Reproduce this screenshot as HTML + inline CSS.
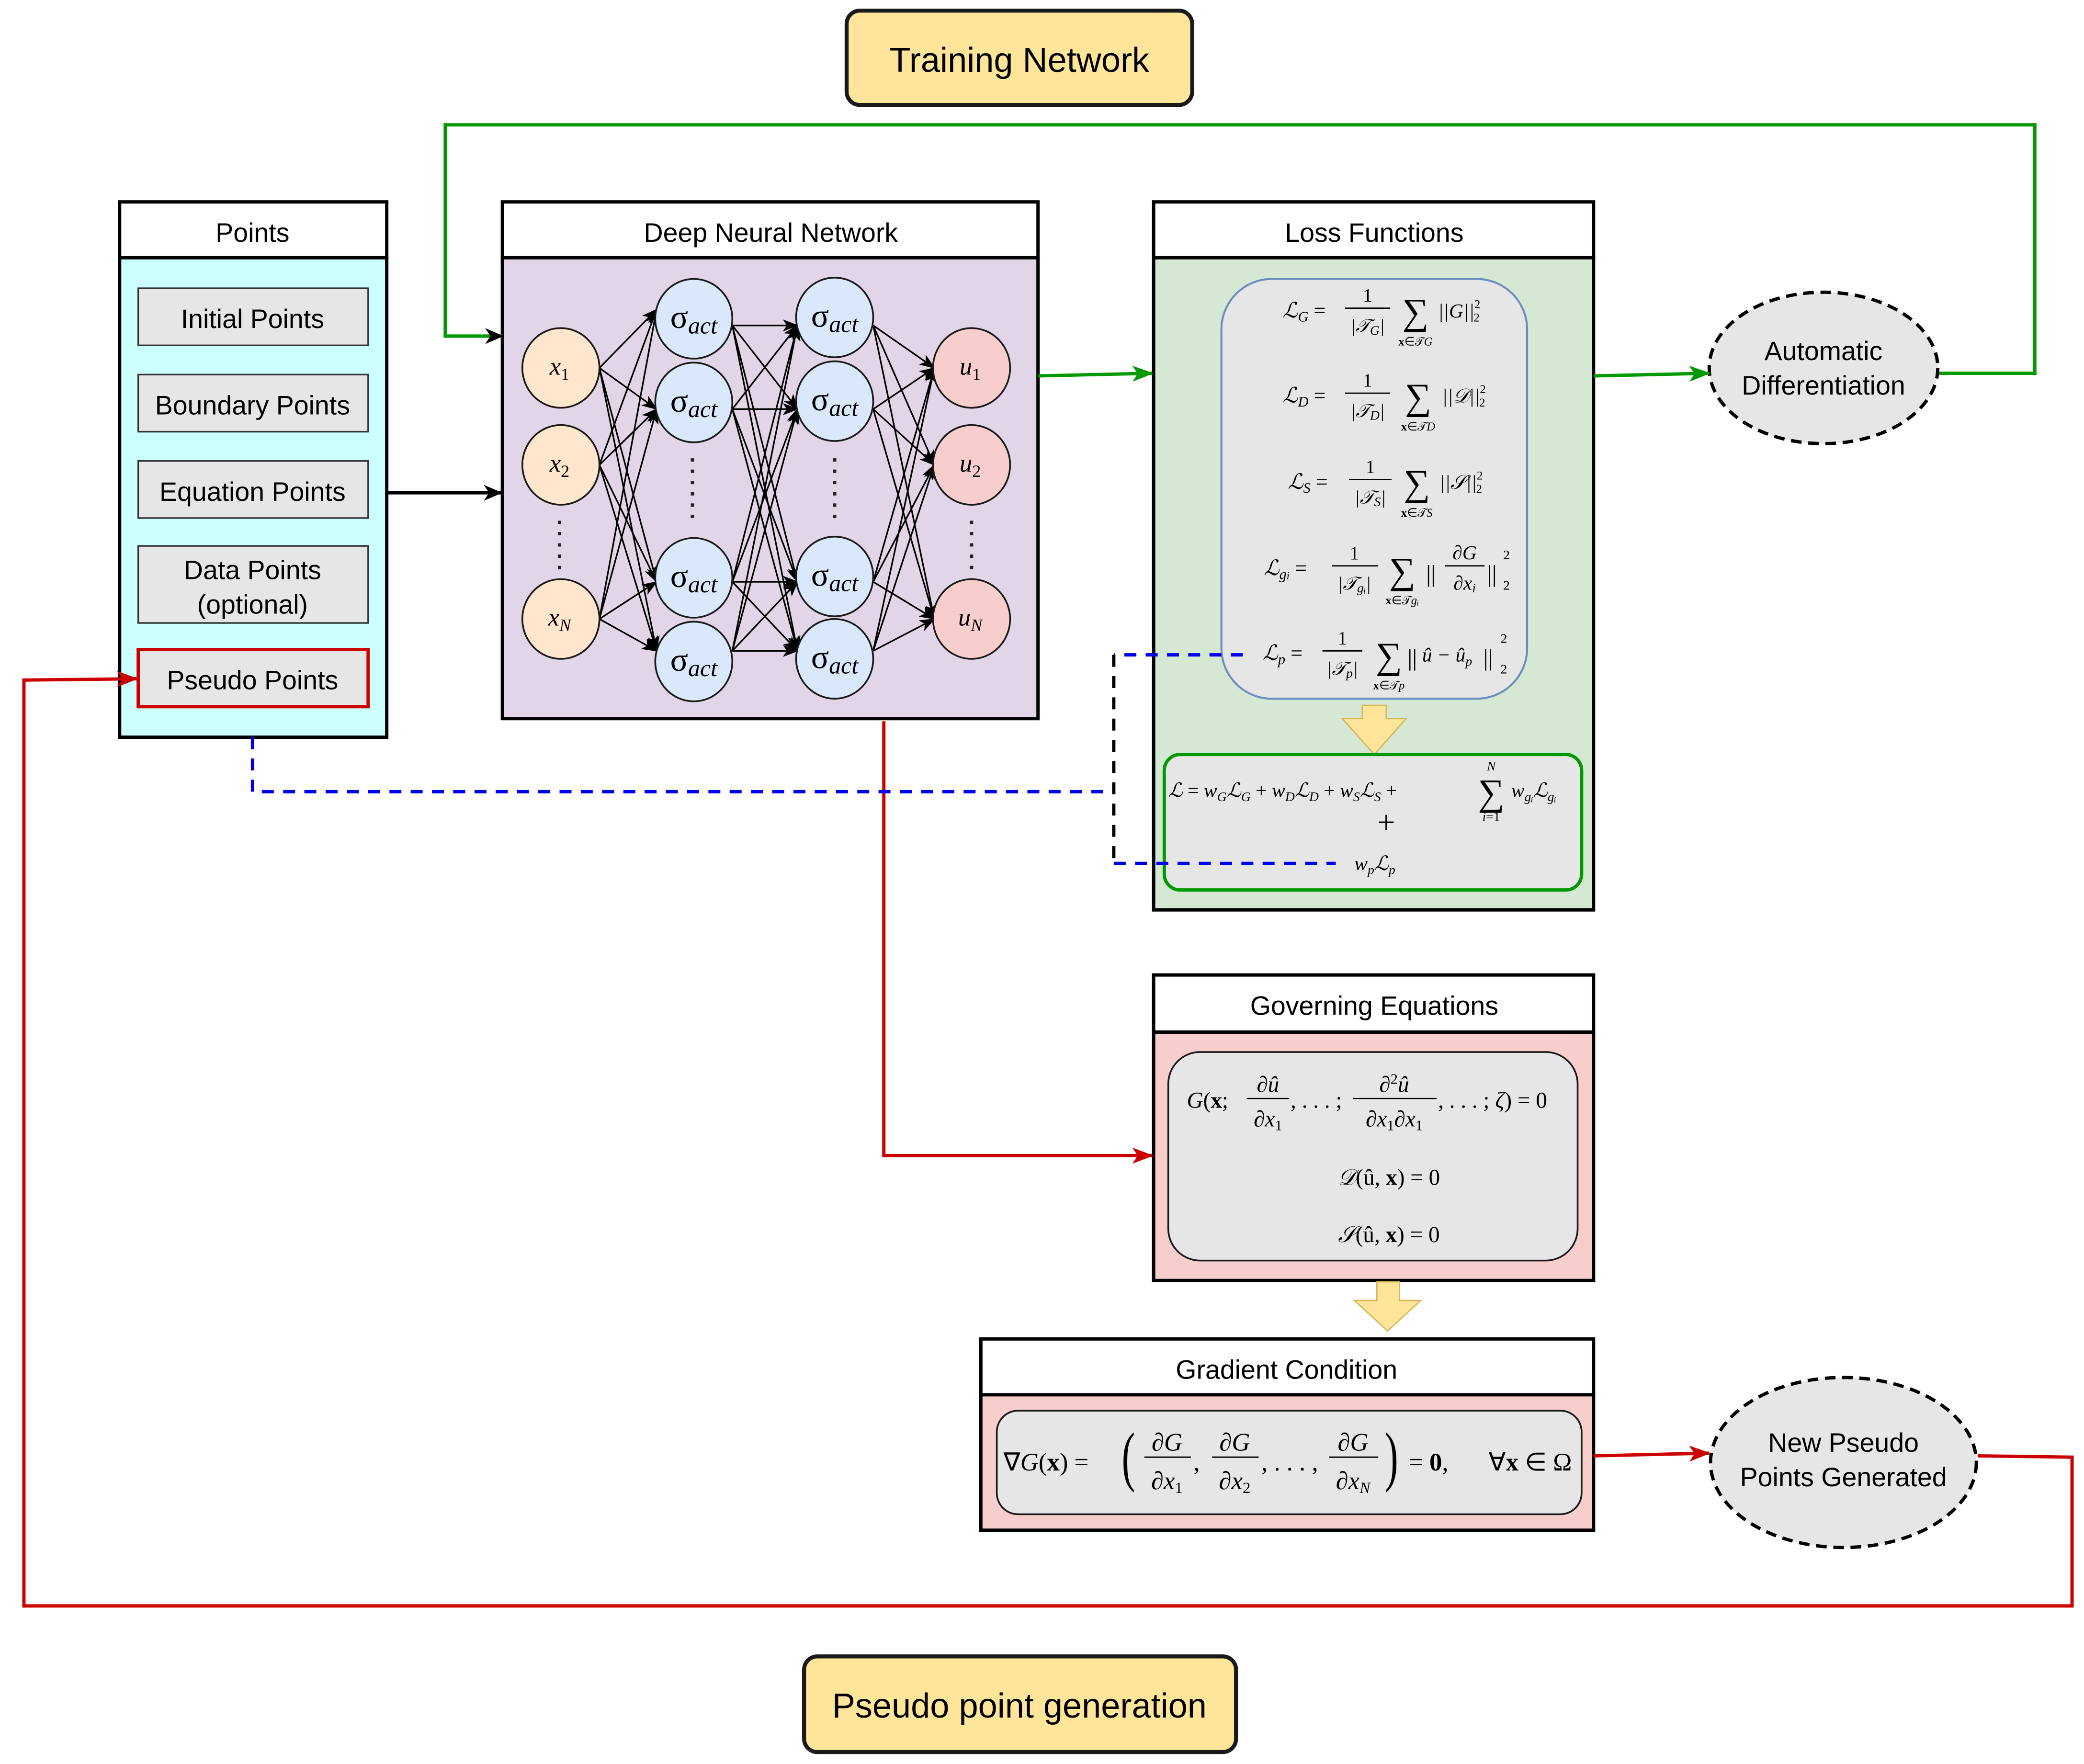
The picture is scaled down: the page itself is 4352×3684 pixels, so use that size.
<!DOCTYPE html>
<html><head><meta charset="utf-8"><style>
html,body{margin:0;padding:0;background:#fff;}
svg{display:block;}
.t{font-family:"Liberation Sans",sans-serif;}
.m{font-family:"Liberation Serif",serif;font-style:italic;}
.r{font-family:"Liberation Serif",serif;}
</style></head><body>
<svg width="4352" height="3684" viewBox="0 0 1568 1328" preserveAspectRatio="none" xmlns="http://www.w3.org/2000/svg">
<defs>
<marker id="ab" markerWidth="12" markerHeight="9" refX="11" refY="4.5" orient="auto" markerUnits="userSpaceOnUse"><path d="M0,0 L12,4.5 L0,9 L3,4.5 z" fill="#000"/></marker>
<marker id="ak" markerWidth="14" markerHeight="12" refX="13" refY="6" orient="auto" markerUnits="userSpaceOnUse"><path d="M0,0 L14,6 L0,12 L4,6 z" fill="#000"/></marker>
<marker id="ag" markerWidth="16" markerHeight="12" refX="15" refY="6" orient="auto" markerUnits="userSpaceOnUse"><path d="M0,0 L16,6 L0,12 L4,6 z" fill="#009900"/></marker>
<marker id="ar" markerWidth="16" markerHeight="12" refX="15" refY="6" orient="auto" markerUnits="userSpaceOnUse"><path d="M0,0 L16,6 L0,12 L4,6 z" fill="#cc0000"/></marker>
</defs>
<rect width="1568" height="1328" fill="#fff"/>

<!-- Titles -->
<rect x="637" y="8" width="260" height="71" rx="10" fill="#ffe599" stroke="#1a1a1a" stroke-width="3"/>
<text x="767" y="54" class="t" font-size="26" text-anchor="middle">Training Network</text>
<rect x="605" y="1247" width="325" height="72" rx="10" fill="#ffe599" stroke="#1a1a1a" stroke-width="3"/>
<text x="767" y="1293" class="t" font-size="26" text-anchor="middle">Pseudo point generation</text>

<!-- Points -->
<rect x="90" y="194" width="201" height="361" fill="#ccffff" stroke="#000" stroke-width="2.5"/>
<rect x="90" y="152" width="201" height="42" fill="#fff" stroke="#000" stroke-width="2.5"/>
<text x="190" y="182" class="t" font-size="20" text-anchor="middle">Points</text>
<g fill="#e6e6e6" stroke="#333" stroke-width="1.2">
<rect x="104" y="217" width="173" height="43"/>
<rect x="104" y="282" width="173" height="43"/>
<rect x="104" y="347" width="173" height="43"/>
<rect x="104" y="411" width="173" height="58"/>
</g>
<rect x="104" y="489" width="173" height="43" fill="#e6e6e6" stroke="#cc0000" stroke-width="2.5"/>
<g class="t" font-size="20" text-anchor="middle">
<text x="190" y="247">Initial Points</text>
<text x="190" y="312">Boundary Points</text>
<text x="190" y="377">Equation Points</text>
<text x="190" y="436">Data Points</text>
<text x="190" y="462">(optional)</text>
<text x="190" y="519">Pseudo Points</text>
</g>

<!-- DNN -->
<rect x="378" y="194" width="403" height="347" fill="#e1d5e7" stroke="#000" stroke-width="2.5"/>
<rect x="378" y="152" width="403" height="42" fill="#fff" stroke="#000" stroke-width="2.5"/>
<text x="580" y="182" class="t" font-size="20" text-anchor="middle">Deep Neural Network</text>
<g stroke="#000" stroke-width="1.2" marker-end="url(#ab)">
<line x1="451" y1="277" x2="494" y2="233"/><line x1="451" y1="277" x2="494" y2="308"/><line x1="451" y1="277" x2="494" y2="438"/><line x1="451" y1="277" x2="494" y2="490"/>
<line x1="451" y1="350" x2="494" y2="233"/><line x1="451" y1="350" x2="494" y2="308"/><line x1="451" y1="350" x2="494" y2="438"/><line x1="451" y1="350" x2="494" y2="490"/>
<line x1="451" y1="466" x2="494" y2="233"/><line x1="451" y1="466" x2="494" y2="308"/><line x1="451" y1="466" x2="494" y2="438"/><line x1="451" y1="466" x2="494" y2="490"/>
<line x1="551" y1="245" x2="600" y2="245"/><line x1="551" y1="245" x2="600" y2="308"/><line x1="551" y1="245" x2="600" y2="438"/><line x1="551" y1="245" x2="600" y2="490"/>
<line x1="551" y1="308" x2="600" y2="245"/><line x1="551" y1="308" x2="600" y2="308"/><line x1="551" y1="308" x2="600" y2="438"/><line x1="551" y1="308" x2="600" y2="490"/>
<line x1="551" y1="438" x2="600" y2="245"/><line x1="551" y1="438" x2="600" y2="308"/><line x1="551" y1="438" x2="600" y2="438"/><line x1="551" y1="438" x2="600" y2="490"/>
<line x1="551" y1="490" x2="600" y2="245"/><line x1="551" y1="490" x2="600" y2="308"/><line x1="551" y1="490" x2="600" y2="438"/><line x1="551" y1="490" x2="600" y2="490"/>
<line x1="657" y1="245" x2="703" y2="277"/><line x1="657" y1="245" x2="703" y2="350"/><line x1="657" y1="245" x2="703" y2="466"/>
<line x1="657" y1="308" x2="703" y2="277"/><line x1="657" y1="308" x2="703" y2="350"/><line x1="657" y1="308" x2="703" y2="466"/>
<line x1="657" y1="438" x2="703" y2="277"/><line x1="657" y1="438" x2="703" y2="350"/><line x1="657" y1="438" x2="703" y2="466"/>
<line x1="657" y1="490" x2="703" y2="277"/><line x1="657" y1="490" x2="703" y2="350"/><line x1="657" y1="490" x2="703" y2="466"/>
</g>
<g stroke="#1a1a1a" stroke-width="1.3">
<ellipse cx="422" cy="277" rx="29" ry="30" fill="#ffe6cc"/>
<ellipse cx="422" cy="350" rx="29" ry="30" fill="#ffe6cc"/>
<ellipse cx="422" cy="466" rx="29" ry="30" fill="#ffe6cc"/>
<g fill="#dae8fc">
<ellipse cx="522" cy="240" rx="29" ry="30"/><ellipse cx="522" cy="303" rx="29" ry="30"/>
<ellipse cx="522" cy="435" rx="29" ry="30"/><ellipse cx="522" cy="498" rx="29" ry="30"/>
<ellipse cx="628" cy="239" rx="29" ry="30"/><ellipse cx="628" cy="302" rx="29" ry="30"/>
<ellipse cx="628" cy="434" rx="29" ry="30"/><ellipse cx="628" cy="496" rx="29" ry="30"/>
</g>
<ellipse cx="731" cy="277" rx="29" ry="30" fill="#f8cecc"/>
<ellipse cx="731" cy="350" rx="29" ry="30" fill="#f8cecc"/>
<ellipse cx="731" cy="466" rx="29" ry="30" fill="#f8cecc"/>
</g>
<g class="m" font-size="19" text-anchor="middle">
<text x="421" y="282">x<tspan font-size="13" font-style="normal" dy="4">1</tspan></text>
<text x="421" y="355">x<tspan font-size="13" font-style="normal" dy="4">2</tspan></text>
<text x="421" y="471">x<tspan font-size="13" dy="4">N</tspan></text>
<text x="730" y="282">u<tspan font-size="13" font-style="normal" dy="4">1</tspan></text>
<text x="730" y="355">u<tspan font-size="13" font-style="normal" dy="4">2</tspan></text>
<text x="730" y="471">u<tspan font-size="13" dy="4">N</tspan></text>
</g>
<g class="m" font-size="25" text-anchor="middle">
<text x="522" y="247"><tspan font-style="normal">σ</tspan><tspan font-size="18" dy="4">act</tspan></text>
<text x="522" y="310"><tspan font-style="normal">σ</tspan><tspan font-size="18" dy="4">act</tspan></text>
<text x="522" y="442"><tspan font-style="normal">σ</tspan><tspan font-size="18" dy="4">act</tspan></text>
<text x="522" y="505"><tspan font-style="normal">σ</tspan><tspan font-size="18" dy="4">act</tspan></text>
<text x="628" y="246"><tspan font-style="normal">σ</tspan><tspan font-size="18" dy="4">act</tspan></text>
<text x="628" y="309"><tspan font-style="normal">σ</tspan><tspan font-size="18" dy="4">act</tspan></text>
<text x="628" y="441"><tspan font-style="normal">σ</tspan><tspan font-size="18" dy="4">act</tspan></text>
<text x="628" y="503"><tspan font-style="normal">σ</tspan><tspan font-size="18" dy="4">act</tspan></text>
</g>
<g stroke="#222" stroke-width="2.5" stroke-dasharray="2.5,6">
<line x1="421" y1="392" x2="421" y2="430"/>
<line x1="521" y1="345" x2="521" y2="395"/>
<line x1="628" y1="345" x2="628" y2="395"/>
<line x1="731" y1="392" x2="731" y2="430"/>
</g>

<!-- Loss Functions -->
<rect x="868" y="194" width="331" height="491" fill="#d5e8d4" stroke="#000" stroke-width="2.5"/>
<rect x="868" y="152" width="331" height="42" fill="#fff" stroke="#000" stroke-width="2.5"/>
<text x="1034" y="182" class="t" font-size="20" text-anchor="middle">Loss Functions</text>
<rect x="919" y="210" width="230" height="316" rx="38" fill="#e6e6e6" stroke="#6c8ebf" stroke-width="1.5"/>
<g font-size="16">
<text x="965" y="239" class="m">ℒ<tspan font-size="11" dy="3">G</tspan><tspan font-style="normal" dy="-3"> =</tspan></text>
<text x="1029" y="227" class="r" text-anchor="middle" font-size="14">1</text><line x1="1012" y1="232" x2="1046" y2="232" stroke="#000" stroke-width="1"/><text x="1029" y="250" class="m" text-anchor="middle" font-size="14">|𝒯<tspan font-size="10" dy="2">G</tspan><tspan dy="-2">|</tspan></text>
<text x="1065" y="244" class="r" text-anchor="middle" font-size="28">∑</text><text x="1065" y="260" class="r" text-anchor="middle" font-size="9"><tspan font-weight="bold">x</tspan>∈𝒯<tspan font-style="italic">G</tspan></text>
<text x="1082" y="239" class="m" font-size="15">||G||<tspan font-size="9" dy="-7" font-style="normal">2</tspan><tspan font-size="9" dx="-5" dy="10" font-style="normal">2</tspan></text>

<text x="965" y="303" class="m">ℒ<tspan font-size="11" dy="3">D</tspan><tspan font-style="normal" dy="-3"> =</tspan></text>
<text x="1029" y="291" class="r" text-anchor="middle" font-size="14">1</text><line x1="1012" y1="296" x2="1046" y2="296" stroke="#000" stroke-width="1"/><text x="1029" y="314" class="m" text-anchor="middle" font-size="14">|𝒯<tspan font-size="10" dy="2">D</tspan><tspan dy="-2">|</tspan></text>
<text x="1067" y="308" class="r" text-anchor="middle" font-size="28">∑</text><text x="1067" y="324" class="r" text-anchor="middle" font-size="9"><tspan font-weight="bold">x</tspan>∈𝒯<tspan font-style="italic">D</tspan></text>
<text x="1085" y="303" class="m" font-size="15">||𝒟||<tspan font-size="9" dy="-7" font-style="normal">2</tspan><tspan font-size="9" dx="-5" dy="10" font-style="normal">2</tspan></text>

<text x="969" y="368" class="m">ℒ<tspan font-size="11" dy="3">S</tspan><tspan font-style="normal" dy="-3"> =</tspan></text>
<text x="1031" y="356" class="r" text-anchor="middle" font-size="14">1</text><line x1="1015" y1="361" x2="1047" y2="361" stroke="#000" stroke-width="1"/><text x="1031" y="379" class="m" text-anchor="middle" font-size="14">|𝒯<tspan font-size="10" dy="2">S</tspan><tspan dy="-2">|</tspan></text>
<text x="1066" y="373" class="r" text-anchor="middle" font-size="28">∑</text><text x="1066" y="389" class="r" text-anchor="middle" font-size="9"><tspan font-weight="bold">x</tspan>∈𝒯<tspan font-style="italic">S</tspan></text>
<text x="1083" y="368" class="m" font-size="15">||𝒮||<tspan font-size="9" dy="-7" font-style="normal">2</tspan><tspan font-size="9" dx="-5" dy="10" font-style="normal">2</tspan></text>

<text x="951" y="433" class="m">ℒ<tspan font-size="11" dy="3">g<tspan font-size="8">i</tspan></tspan><tspan font-style="normal" dy="-3"> =</tspan></text>
<text x="1019" y="421" class="r" text-anchor="middle" font-size="14">1</text><line x1="1002" y1="426" x2="1037" y2="426" stroke="#000" stroke-width="1"/><text x="1019" y="444" class="m" text-anchor="middle" font-size="14">|𝒯<tspan font-size="10" dy="2">gᵢ</tspan><tspan dy="-2">|</tspan></text>
<text x="1055" y="439" class="r" text-anchor="middle" font-size="28">∑</text><text x="1055" y="455" class="r" text-anchor="middle" font-size="9"><tspan font-weight="bold">x</tspan>∈𝒯<tspan font-style="italic">gᵢ</tspan></text>
<text x="1073" y="438" class="r" font-size="18">||</text>
<text x="1102" y="421" class="m" text-anchor="middle" font-size="15">∂G</text><line x1="1087" y1="426" x2="1117" y2="426" stroke="#000" stroke-width="1"/><text x="1102" y="444" class="m" text-anchor="middle" font-size="15">∂x<tspan font-size="10" dy="2">i</tspan></text>
<text x="1119" y="438" class="r" font-size="18">||</text><text x="1131" y="421" class="r" font-size="10">2</text><text x="1131" y="444" class="r" font-size="10">2</text>

<text x="950" y="497" class="m">ℒ<tspan font-size="11" dy="3">p</tspan><tspan font-style="normal" dy="-3"> =</tspan></text>
<text x="1010" y="485" class="r" text-anchor="middle" font-size="14">1</text><line x1="995" y1="490" x2="1025" y2="490" stroke="#000" stroke-width="1"/><text x="1010" y="508" class="m" text-anchor="middle" font-size="14">|𝒯<tspan font-size="10" dy="2">p</tspan><tspan dy="-2">|</tspan></text>
<text x="1045" y="503" class="r" text-anchor="middle" font-size="28">∑</text><text x="1045" y="519" class="r" text-anchor="middle" font-size="9"><tspan font-weight="bold">x</tspan>∈𝒯<tspan font-style="italic">p</tspan></text>
<text x="1059" y="501" class="r" font-size="18">||</text><text x="1070" y="498" class="m" font-size="15">û − û<tspan font-size="10" dy="3">p</tspan></text><text x="1116" y="501" class="r" font-size="18">||</text><text x="1129" y="484" class="r" font-size="10">2</text><text x="1129" y="507" class="r" font-size="10">2</text>
</g>
<path d="M1025,531 L1043,531 L1043,541 L1058,541 L1034,568 L1010,541 L1025,541 Z" fill="#ffe599" stroke="#d6b656" stroke-width="1"/>
<rect x="876" y="568" width="314" height="102" rx="12" fill="#e6e6e6" stroke="#009900" stroke-width="2.5"/>
<text x="879" y="600" class="m" font-size="15">ℒ <tspan font-style="normal">=</tspan> w<tspan font-size="10" dy="3">G</tspan><tspan dy="-3">ℒ</tspan><tspan font-size="10" dy="3">G</tspan><tspan font-style="normal" dy="-3"> + </tspan>w<tspan font-size="10" dy="3">D</tspan><tspan dy="-3">ℒ</tspan><tspan font-size="10" dy="3">D</tspan><tspan font-style="normal" dy="-3"> + </tspan>w<tspan font-size="10" dy="3">S</tspan><tspan dy="-3">ℒ</tspan><tspan font-size="10" dy="3">S</tspan><tspan font-style="normal" dy="-3"> +</tspan></text>
<text x="1122" y="606" class="r" text-anchor="middle" font-size="28">∑</text>
<text x="1122" y="580" class="m" text-anchor="middle" font-size="10">N</text>
<text x="1122" y="618" class="m" text-anchor="middle" font-size="10">i<tspan font-style="normal">=1</tspan></text>
<text x="1137" y="600" class="m" font-size="15">w<tspan font-size="10" dy="3">gᵢ</tspan><tspan dy="-3">ℒ</tspan><tspan font-size="10" dy="3">gᵢ</tspan></text>
<text x="1043" y="627" class="r" text-anchor="middle" font-size="24">+</text>
<text x="1019" y="655" class="m" font-size="15">w<tspan font-size="10" dy="3">p</tspan><tspan dy="-3">ℒ</tspan><tspan font-size="10" dy="3">p</tspan></text>

<!-- Governing Equations -->
<rect x="868" y="777" width="331" height="187" fill="#f8cecc" stroke="#000" stroke-width="2.5"/>
<rect x="868" y="734" width="331" height="43" fill="#fff" stroke="#000" stroke-width="2.5"/>
<text x="1034" y="764" class="t" font-size="20" text-anchor="middle">Governing Equations</text>
<rect x="879" y="792" width="308" height="157" rx="24" fill="#e6e6e6" stroke="#1a1a1a" stroke-width="1.3"/>
<g class="r" font-size="17">
<text x="893" y="834"><tspan font-style="italic">G</tspan>(<tspan font-weight="bold">x</tspan>;</text>
<text x="954" y="822" text-anchor="middle" font-style="italic">∂û</text><line x1="938" y1="827" x2="970" y2="827" stroke="#000" stroke-width="0.9"/><text x="954" y="848" text-anchor="middle" font-style="italic">∂x<tspan font-size="11" font-style="normal" dy="3">1</tspan></text>
<text x="971" y="834">, . . . ;</text>
<text x="1049" y="822" text-anchor="middle" font-style="italic">∂<tspan font-size="11" dy="-6" font-style="normal">2</tspan><tspan dy="6">û</tspan></text><line x1="1018" y1="827" x2="1081" y2="827" stroke="#000" stroke-width="0.9"/><text x="1049" y="848" text-anchor="middle" font-style="italic">∂x<tspan font-size="11" font-style="normal" dy="3">1</tspan><tspan dy="-3">∂x</tspan><tspan font-size="11" font-style="normal" dy="3">1</tspan></text>
<text x="1082" y="834">, . . . ; <tspan font-style="italic">ζ</tspan>) = 0</text>
<text x="1045" y="892" text-anchor="middle"><tspan font-style="italic">𝒟</tspan>(û, <tspan font-weight="bold">x</tspan>) = 0</text>
<text x="1045" y="935" text-anchor="middle"><tspan font-style="italic">𝒮</tspan>(û, <tspan font-weight="bold">x</tspan>) = 0</text>
</g>
<path d="M1036,965 L1053,965 L1053,979 L1069,979 L1044,1002 L1019,979 L1036,979 Z" fill="#ffe599" stroke="#d6b656" stroke-width="1"/>

<!-- Gradient Condition -->
<rect x="738" y="1050" width="461" height="102" fill="#f8cecc" stroke="#000" stroke-width="2.5"/>
<rect x="738" y="1008" width="461" height="42" fill="#fff" stroke="#000" stroke-width="2.5"/>
<text x="968" y="1038" class="t" font-size="20" text-anchor="middle">Gradient Condition</text>
<rect x="750" y="1062" width="440" height="78" rx="16" fill="#e6e6e6" stroke="#1a1a1a" stroke-width="1.3"/>
<g class="r" font-size="19">
<text x="755" y="1107">∇<tspan font-style="italic">G</tspan>(<tspan font-weight="bold">x</tspan>) =</text>
<text x="844" y="1113" font-size="50" transform="scale(0.6,1)" transform-origin="844 1113">(</text>
<text x="878" y="1092" text-anchor="middle" font-style="italic">∂G</text><line x1="861" y1="1097" x2="896" y2="1097" stroke="#000" stroke-width="1"/><text x="878" y="1121" text-anchor="middle" font-style="italic">∂x<tspan font-size="12" font-style="normal" dy="3">1</tspan></text>
<text x="898" y="1107">,</text>
<text x="929" y="1092" text-anchor="middle" font-style="italic">∂G</text><line x1="912" y1="1097" x2="947" y2="1097" stroke="#000" stroke-width="1"/><text x="929" y="1121" text-anchor="middle" font-style="italic">∂x<tspan font-size="12" font-style="normal" dy="3">2</tspan></text>
<text x="949" y="1107">, . . . ,</text>
<text x="1018" y="1092" text-anchor="middle" font-style="italic">∂G</text><line x1="1000" y1="1097" x2="1037" y2="1097" stroke="#000" stroke-width="1"/><text x="1018" y="1121" text-anchor="middle" font-style="italic">∂x<tspan font-size="12" dy="3">N</tspan></text>
<text x="1042" y="1113" font-size="50" transform="scale(0.6,1)" transform-origin="1042 1113">)</text>
<text x="1060" y="1107">= <tspan font-weight="bold">0</tspan>,</text>
<text x="1120" y="1107">∀<tspan font-weight="bold">x</tspan> ∈ Ω</text>
</g>

<!-- Ellipses -->
<ellipse cx="1372" cy="277" rx="86" ry="57" fill="#e6e6e6" stroke="#000" stroke-width="2.5" stroke-dasharray="8,5"/>
<text x="1372" y="271" class="t" font-size="20" text-anchor="middle">Automatic</text>
<text x="1372" y="297" class="t" font-size="20" text-anchor="middle">Differentiation</text>
<ellipse cx="1387" cy="1101" rx="100" ry="64" fill="#e6e6e6" stroke="#000" stroke-width="2.5" stroke-dasharray="8,5"/>
<text x="1387" y="1093" class="t" font-size="20" text-anchor="middle">New Pseudo</text>
<text x="1387" y="1119" class="t" font-size="20" text-anchor="middle">Points Generated</text>

<!-- Connectors -->
<g fill="none" stroke-width="2.5">
<polyline points="1459,281 1531,281 1531,94 335,94 335,253 378,253" stroke="#009900" marker-end="url(#ak)"/>
<line x1="781" y1="283" x2="867" y2="281" stroke="#009900" marker-end="url(#ag)"/>
<line x1="1199" y1="283" x2="1286" y2="281" stroke="#009900" marker-end="url(#ag)"/>
<line x1="291" y1="371" x2="377" y2="371" stroke="#000" marker-end="url(#ak)"/>
<polyline points="665,543 665,870 867,870" stroke="#cc0000" marker-end="url(#ar)"/>
<line x1="1199" y1="1096" x2="1286" y2="1094" stroke="#cc0000" marker-end="url(#ar)"/>
<polyline points="1488,1096 1559,1097 1559,1209 18,1209 18,512 103,511" stroke="#cc0000" marker-end="url(#ar)"/>
<polyline points="190,555 190,596 838,596" stroke="#0000ee" stroke-dasharray="9,7"/>
<polyline points="935,493 838,493" stroke="#0000ee" stroke-dasharray="9,7"/>
<polyline points="838,493 838,650" stroke="#000" stroke-dasharray="9,7"/>
<polyline points="838,650 1005,650" stroke="#0000ee" stroke-dasharray="9,7"/>
</g>
</svg>
</body></html>
